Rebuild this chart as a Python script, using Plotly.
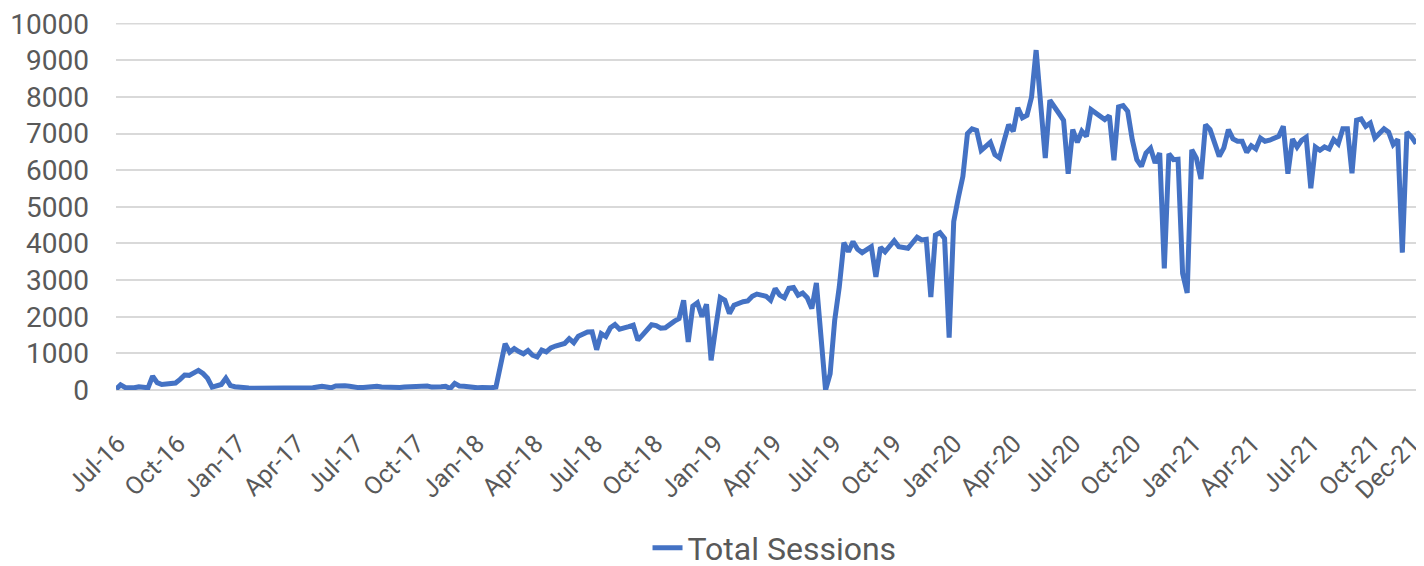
import pandas as pd
import plotly.graph_objects as go

# Weekly total sessions, first week starting 2016-07-01
start_date = "2016-07-01"
sessions = [
    20, 140, 70, 60, 60, 90, 70, 60, 380, 200,
    150, 160, 170, 190, 290, 410, 400, 450, 535, 450,
    320, 80, 130, 150, 320, 120, 90, 70, 60, 55,
    50, 50, 55, 60, 70, 60, 55, 50, 45, 50,
    55, 50, 55, 60, 80, 100, 80, 60, 110, 120,
    115, 100, 70, 65, 70, 90, 110, 100, 80, 70,
    70, 75, 70, 80, 90, 100, 110, 130, 110, 80,
    70, 90, 100, 40, 180, 110, 100, 80, 50, 60,
    70, 60, 60, 80, 600, 1265, 1030, 1130, 1050, 990,
    1080, 950, 900, 1090, 1040, 1150, 1200, 1230, 1270, 1400,
    1290, 1470, 1540, 1585, 1590, 1100, 1540, 1460, 1700, 1790,
    1660, 1680, 1730, 1770, 1360, 1500, 1640, 1780, 1760, 1690,
    1700, 1800, 1880, 1950, 2450, 1310, 2290, 2380, 2000, 2340,
    810, 1700, 2525, 2450, 2090, 2315, 2380, 2410, 2430, 2560,
    2620, 2580, 2560, 2450, 2770, 2590, 2520, 2780, 2800, 2590,
    2650, 2520, 2225, 2925, 1630, 0, 440, 1905, 2815, 4020,
    3775, 4050, 3840, 3750, 3830, 3910, 3090, 3895, 3775, 3920,
    4075, 3910, 3880, 3870, 4020, 4170, 4095, 4115, 2540, 4230,
    4295, 4140, 1430, 4600, 5250, 5830, 7000, 7130, 7090, 6540,
    6650, 6760, 6425, 6335, 6800, 7245, 7065, 7705, 7430, 7500,
    8000, 9280, 7800, 6335, 7910, 7700, 7550, 7365, 5905, 7110,
    6760, 7065, 6925, 7655, 7565, 7450, 7385, 7490, 6270, 7730,
    7765, 7610, 6835, 6290, 6105, 6470, 6600, 6200, 6470, 3320,
    6450, 6290, 6300, 3185, 2650, 6560, 6330, 5760, 7245, 7110,
    6750, 6380, 6610, 7110, 6855, 6790, 6790, 6490, 6670, 6580,
    6880, 6790, 6820, 6855, 6925, 7200, 5905, 6850, 6635, 6815,
    6900, 5510, 6635, 6545, 6635, 6580, 6840, 6720, 7130, 7130,
    5920, 7365, 7400, 7200, 7290, 6880, 7015, 7130, 7040, 6700,
    6840, 3750, 7040, 6910, 6725,
]
series_name = "Total Sessions"

tick_dates = [
    "2016-07-01", "2016-10-01", "2017-01-01", "2017-04-01", "2017-07-01",
    "2017-10-01", "2018-01-01", "2018-04-01", "2018-07-01", "2018-10-01",
    "2019-01-01", "2019-04-01", "2019-07-01", "2019-10-01", "2020-01-01",
    "2020-04-01", "2020-07-01", "2020-10-01", "2021-01-01", "2021-04-01",
    "2021-07-01", "2021-10-01", "2021-12-01",
]
y_ticks = [0, 1000, 2000, 3000, 4000, 5000, 6000, 7000, 8000, 9000, 10000]

dates = pd.date_range(start_date, periods=len(sessions), freq="7D")
tick_text = [pd.Timestamp(d).strftime("%b-%y") for d in tick_dates]

TEXT = "#595959"
GRID = "#d9d9d9"
FONT = "Roboto"

fig = go.Figure()
fig.add_trace(go.Scatter(
    x=dates, y=sessions, mode="lines", name=series_name,
    line=dict(color="#4472C4", width=5),
))

# top gridline (drawn explicitly so it is not dropped at the plot edge)
fig.add_shape(type="line", xref="paper", x0=0, x1=1, yref="y",
              y0=y_ticks[-1], y1=y_ticks[-1], layer="below",
              line=dict(color=GRID, width=1.5))

fig.update_layout(
    width=1424, height=566,
    margin=dict(l=108, r=12, t=15, b=184, autoexpand=False),
    paper_bgcolor="white", plot_bgcolor="white",
    font=dict(family=FONT, color=TEXT, size=27),
    showlegend=True,
    legend=dict(orientation="h", x=0.505, xanchor="center", y=-0.4305, yanchor="middle",
                font=dict(family=FONT, size=32, color=TEXT)),
    xaxis=dict(
        type="date", automargin=False,
        range=["2016-07-01", "2021-12-16"],
        tickmode="array", tickvals=tick_dates, ticktext=tick_text,
        tickangle=-45, showgrid=False, zeroline=False, showline=False,
        ticks="outside", ticklen=28, tickcolor="rgba(0,0,0,0)",
        ticklabelshift=2, ticklabeloverflow="allow",
        tickfont=dict(family=FONT, size=25, color=TEXT),
    ),
    yaxis=dict(
        range=[0, 10020], tickmode="array", tickvals=y_ticks, automargin=False,
        ticktext=[str(v) for v in y_ticks],
        showgrid=True, gridcolor=GRID, gridwidth=1.5,
        zeroline=True, zerolinecolor=GRID, zerolinewidth=1.5,
        showline=False, ticklabelstandoff=26, ticklabeloverflow="allow",
        tickfont=dict(family=FONT, size=28, color=TEXT),
    ),
)

fig.write_html("out.html")
